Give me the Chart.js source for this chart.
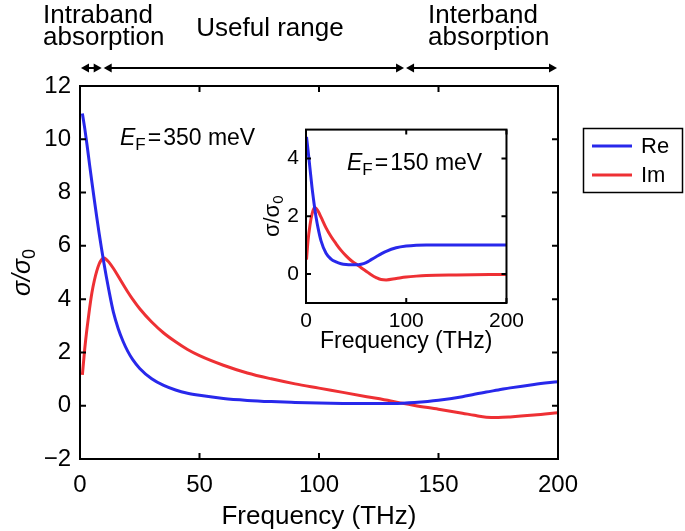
<!DOCTYPE html>
<html><head><meta charset="utf-8">
<script src="https://cdn.jsdelivr.net/npm/chart.js@4/dist/chart.umd.min.js"></script>
<style>
html,body{margin:0;padding:0;background:#fff;}
#wrap{position:relative;width:685px;height:531px;overflow:hidden;}
#main{position:absolute;left:0;top:0;}
#inset{position:absolute;left:240px;top:110px;}
</style></head><body>
<div id="wrap"><canvas id="main" width="685" height="531"></canvas><canvas id="inset" width="290" height="250"></canvas></div>
<script>
// ---- data ----
const freqMain = [1,2,3,4,5,6,7,8,9,10,11,12,14,16,18,20,22,25,30,35,40,45,50,60,70,80,90,100,110,120,130,135,140,150,160,165,170,175,180,190,200];
const reMain   = [10.97,10.4,9.75,9.05,8.38,7.72,7.08,6.47,5.9,5.36,4.85,4.37,3.5,2.89,2.42,2.04,1.74,1.4,1.01,0.76,0.59,0.47,0.39,0.27,0.2,0.155,0.125,0.1,0.085,0.08,0.085,0.095,0.12,0.205,0.34,0.43,0.515,0.59,0.67,0.8,0.9];
const imMain   = [1.16,2.15,2.95,3.65,4.25,4.7,5.05,5.32,5.48,5.54,5.49,5.4,5.15,4.86,4.56,4.27,4.0,3.64,3.14,2.73,2.4,2.11,1.88,1.52,1.23,1.01,0.82,0.66,0.5,0.34,0.18,0.09,0.01,-0.13,-0.28,-0.36,-0.43,-0.44,-0.42,-0.35,-0.26];

const freqInset = [0.5,2,4,6,8,9,10,12,15,20,25,30,35,40,45,50,55,60,65,70,75,80,90,100,110,120,150,200];
const reInset   = [4.75,4.3,3.65,3.0,2.45,2.2,1.98,1.6,1.15,0.72,0.52,0.42,0.36,0.33,0.32,0.32,0.34,0.4,0.5,0.6,0.7,0.79,0.91,0.97,1.0,1.01,1.01,1.01];
const imInset   = [0.5,1.15,1.7,2.08,2.28,2.3,2.28,2.18,1.97,1.6,1.3,1.05,0.82,0.63,0.47,0.35,0.22,0.1,-0.02,-0.12,-0.19,-0.2,-0.15,-0.1,-0.07,-0.05,-0.03,-0.01];

const mainXTicks  = [0,50,100,150,200];
const mainYTicks  = [-2,0,2,4,6,8,10,12];
const insetXTicks = [0,100,200];
const insetYTicks = [0,2,4];
const seriesLabels = ['Re','Im'];
const seriesColors = ['rgb(40,40,235)','rgb(238,48,52)'];
const regionBounds = [0, 9.5, 136, 200];
const regionTexts  = [['Intraband','absorption'],['Useful range'],['Interband','absorption']];
const efMain  = '350 meV';
const efInset = '150 meV';
const xTitle = 'Frequency (THz)';

const F = "'Liberation Sans', Arial, Helvetica, sans-serif";
const minusFmt = v => (v < 0 ? '\u2212' + Math.abs(v) : String(v));
const pts = (xs, ys) => xs.map((x, i) => ({x, y: ys[i]}));

function boxAndTicks(chart, xt, yt, len) {
  const {ctx, chartArea: a, scales: {x, y}} = chart;
  ctx.save();
  ctx.strokeStyle = '#000'; ctx.lineWidth = 2;
  ctx.beginPath();
  xt.forEach(v => { const p = x.getPixelForValue(v);
    ctx.moveTo(p, a.bottom); ctx.lineTo(p, a.bottom - len);
    ctx.moveTo(p, a.top); ctx.lineTo(p, a.top + len); });
  yt.forEach(v => { const p = y.getPixelForValue(v);
    ctx.moveTo(a.left, p); ctx.lineTo(a.left + len, p);
    ctx.moveTo(a.right, p); ctx.lineTo(a.right - len, p); });
  ctx.stroke();
  ctx.strokeRect(a.left, a.top, a.right - a.left, a.bottom - a.top);
  ctx.restore();
}

function drawSigmaTitle(ctx, cx, cy, size, italic) {
  ctx.save();
  ctx.translate(cx, cy); ctx.rotate(-Math.PI / 2);
  ctx.fillStyle = '#000'; ctx.textBaseline = 'alphabetic';
  const f1 = (italic ? 'italic ' : '') + size + 'px ' + F;
  const f2 = Math.round(size * 0.7) + 'px ' + F;
  ctx.font = f1; const w1 = ctx.measureText('σ/σ').width;
  ctx.font = f2; const w2 = ctx.measureText('0').width;
  const x0 = -(w1 + w2) / 2, base = size * 0.3;
  ctx.font = f1; ctx.fillText('σ/σ', x0, base);
  ctx.font = f2; ctx.fillText('0', x0 + w1, base + size * 0.22);
  ctx.restore();
}

function drawEF(ctx, x, y, size, val) {
  ctx.save(); ctx.fillStyle = '#000'; ctx.textBaseline = 'alphabetic'; ctx.textAlign = 'left';
  ctx.font = 'italic ' + size + 'px ' + F; ctx.fillText('E', x, y);
  let cx = x + ctx.measureText('E').width;
  ctx.font = Math.round(size * 0.72) + 'px ' + F; ctx.fillText('F', cx, y + size * 0.22);
  cx += ctx.measureText('F').width + 2;
  ctx.font = size + 'px ' + F; ctx.fillText('=', cx, y);
  cx += ctx.measureText('=').width + 2;
  ctx.fillText(val, cx, y);
  ctx.restore();
}

function arrowHead(ctx, x, y, dir) {
  ctx.beginPath(); ctx.moveTo(x, y); ctx.lineTo(x - dir * 8, y - 4.5); ctx.lineTo(x - dir * 8, y + 4.5); ctx.closePath(); ctx.fill();
}

const mainPlugin = {
  id: 'mainDeco',
  afterDraw(chart) {
    const {ctx, chartArea: a, scales: {x}} = chart;
    boxAndTicks(chart, mainXTicks, mainYTicks, 6);
    ctx.save(); ctx.fillStyle = '#000'; ctx.strokeStyle = '#000';
    // region arrows
    const ay = 68;
    for (let i = 0; i < regionBounds.length - 1; i++) {
      const p0 = x.getPixelForValue(regionBounds[i]) + 1, p1 = x.getPixelForValue(regionBounds[i + 1]) - 1;
      ctx.lineWidth = 2; ctx.beginPath(); ctx.moveTo(p0 + 2, ay); ctx.lineTo(p1 - 2, ay); ctx.stroke();
      arrowHead(ctx, p0, ay, -1); arrowHead(ctx, p1, ay, 1);
    }
    // region texts
    ctx.font = '26px ' + F; ctx.textBaseline = 'alphabetic';
    ctx.textAlign = 'left';
    ctx.fillText(regionTexts[0][0], 43, 23); ctx.fillText(regionTexts[0][1], 43, 45);
    ctx.textAlign = 'center';
    ctx.fillText(regionTexts[1][0], 270, 36);
    ctx.textAlign = 'left';
    ctx.fillText(regionTexts[2][0], 428, 23); ctx.fillText(regionTexts[2][1], 428, 45);
    // x title
    ctx.font = '26px ' + F; ctx.textAlign = 'center';
    ctx.fillText(xTitle, (a.left + a.right) / 2, 524);
    // legend
    ctx.lineWidth = 1.5; ctx.strokeRect(583.5, 128.5, 99, 64);
    ctx.font = '22px ' + F; ctx.textAlign = 'left'; ctx.textBaseline = 'middle';
    const ly = [146, 175];
    seriesLabels.forEach((s, i) => {
      ctx.strokeStyle = seriesColors[i]; ctx.lineWidth = 3;
      ctx.beginPath(); ctx.moveTo(592, ly[i]); ctx.lineTo(632, ly[i]); ctx.stroke();
      ctx.fillStyle = '#000'; ctx.fillText(s, 641, ly[i] + 1);
    });
    ctx.restore();
    drawEF(ctx, 120, 145, 23, efMain);
    drawSigmaTitle(ctx, 22, (a.top + a.bottom) / 2, 25, true);
  }
};

new Chart(document.getElementById('main'), {
  type: 'line',
  data: { datasets: [
    {label: seriesLabels[0], data: pts(freqMain, reMain), borderColor: seriesColors[0], borderWidth: 3, pointRadius: 0, cubicInterpolationMode: 'monotone', fill: false},
    {label: seriesLabels[1], data: pts(freqMain, imMain), borderColor: seriesColors[1], borderWidth: 3, pointRadius: 0, cubicInterpolationMode: 'monotone', fill: false}
  ]},
  options: {
    responsive: false, animation: false, events: [],
    layout: {padding: {top: 86, right: 127, left: 0, bottom: 0}},
    plugins: {legend: {display: false}, tooltip: {enabled: false}},
    scales: {
      x: {type: 'linear', min: 0, max: 200,
        afterBuildTicks: s => { s.ticks = mainXTicks.map(v => ({value: v})); },
        afterFit: s => { s.height = 72; },
        grid: {display: false, drawTicks: false}, border: {display: false},
        ticks: {color: '#000', font: {family: F, size: 24}, padding: 12, maxRotation: 0, autoSkip: false, callback: minusFmt}},
      y: {type: 'linear', min: -2, max: 12,
        afterBuildTicks: s => { s.ticks = mainYTicks.map(v => ({value: v})); },
        afterFit: s => { s.width = 80; },
        grid: {display: false, drawTicks: false}, border: {display: false},
        ticks: {color: '#000', font: {family: F, size: 24}, padding: 9, autoSkip: false, callback: minusFmt}}
    }
  },
  plugins: [mainPlugin]
});

const insetPlugin = {
  id: 'insetDeco',
  beforeDatasetsDraw(chart) {
    const {ctx, chartArea: a} = chart;
    ctx.save(); ctx.fillStyle = '#fff'; ctx.fillRect(a.left, a.top, a.right - a.left, a.bottom - a.top); ctx.restore();
  },
  afterDraw(chart) {
    const {ctx, chartArea: a} = chart;
    boxAndTicks(chart, insetXTicks, insetYTicks, 5);
    drawEF(ctx, 107, 60, 23, efInset);
    ctx.save(); ctx.fillStyle = '#000'; ctx.font = '23px ' + F; ctx.textAlign = 'center'; ctx.textBaseline = 'alphabetic';
    ctx.fillText(xTitle, (a.left + a.right) / 2, 238);
    ctx.restore();
    drawSigmaTitle(ctx, 32, (a.top + a.bottom) / 2, 22, false);
  }
};

new Chart(document.getElementById('inset'), {
  type: 'line',
  data: { datasets: [
    {label: seriesLabels[0], data: pts(freqInset, reInset), borderColor: seriesColors[0], borderWidth: 3, pointRadius: 0, cubicInterpolationMode: 'monotone', fill: false},
    {label: seriesLabels[1], data: pts(freqInset, imInset), borderColor: seriesColors[1], borderWidth: 3, pointRadius: 0, cubicInterpolationMode: 'monotone', fill: false}
  ]},
  options: {
    responsive: false, animation: false, events: [],
    layout: {padding: {top: 15, right: 14, left: 0, bottom: 0}},
    plugins: {legend: {display: false}, tooltip: {enabled: false}},
    scales: {
      x: {type: 'linear', min: 0, max: 200,
        afterBuildTicks: s => { s.ticks = insetXTicks.map(v => ({value: v})); },
        afterFit: s => { s.height = 57; },
        grid: {display: false, drawTicks: false}, border: {display: false},
        ticks: {color: '#000', font: {family: F, size: 21}, padding: 6, maxRotation: 0, autoSkip: false}},
      y: {type: 'linear', min: -1, max: 5,
        afterBuildTicks: s => { s.ticks = insetYTicks.map(v => ({value: v})); },
        afterFit: s => { s.width = 66; },
        grid: {display: false, drawTicks: false}, border: {display: false},
        ticks: {color: '#000', font: {family: F, size: 21}, padding: 7, autoSkip: false}}
    }
  },
  plugins: [insetPlugin]
});
</script>
</body></html>
